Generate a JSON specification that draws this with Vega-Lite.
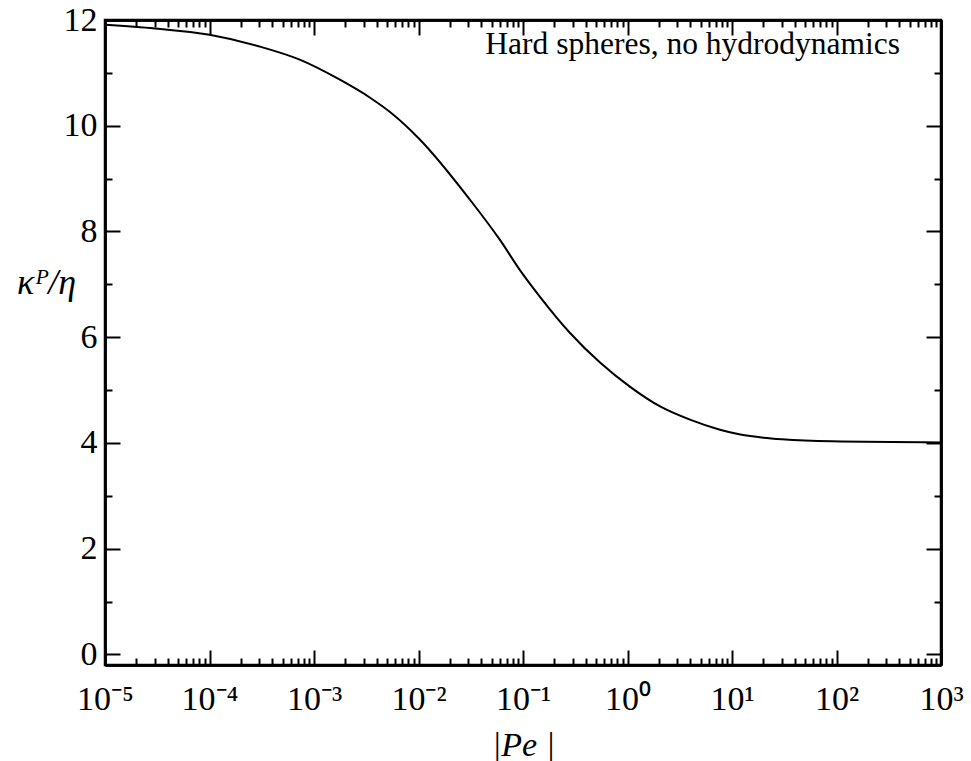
{
  "$schema": "https://vega.github.io/schema/vega-lite/v6.json",
  "width": 836,
  "height": 645,
  "autosize": {"type": "none"},
  "padding": {"left": 105, "top": 20, "right": 30, "bottom": 96},
  "background": "white",
  "config": {
    "view": {"stroke": "black", "strokeWidth": 2.5},
    "axis": {
      "grid": false,
      "domainColor": "black",
      "domainWidth": 2.5,
      "tickColor": "black",
      "tickWidth": 2,
      "labelColor": "black",
      "titleColor": "black",
      "labelFont": "Liberation Serif",
      "titleFont": "Liberation Serif",
      "labelFlush": false,
      "labelOverlap": false,
      "labelBound": false
    }
  },
  "datasets": {
    "curve": [
      {"pe": 0.00001, "k": 11.91},
      {"pe": 0.00003, "k": 11.84},
      {"pe": 0.0001, "k": 11.72},
      {"pe": 0.0003, "k": 11.5},
      {"pe": 0.00073, "k": 11.25},
      {"pe": 0.00177, "k": 10.87},
      {"pe": 0.00344, "k": 10.53},
      {"pe": 0.00534, "k": 10.26},
      {"pe": 0.0103, "k": 9.74},
      {"pe": 0.0311, "k": 8.6},
      {"pe": 0.0602, "k": 7.84},
      {"pe": 0.0935, "k": 7.27},
      {"pe": 0.146, "k": 6.76},
      {"pe": 0.282, "k": 6.08},
      {"pe": 0.546, "k": 5.52},
      {"pe": 1.06, "k": 5.06},
      {"pe": 2.05, "k": 4.69},
      {"pe": 3.96, "k": 4.44},
      {"pe": 7.67, "k": 4.25},
      {"pe": 12, "k": 4.16},
      {"pe": 20, "k": 4.1},
      {"pe": 30, "k": 4.07},
      {"pe": 90, "k": 4.03},
      {"pe": 1000, "k": 4.01}
    ],
    "note": [{"pe": 405, "k": 11.53, "label": "Hard spheres, no hydrodynamics"}]
  },
  "resolve": {"axis": {"x": "independent", "y": "independent"}},
  "layer": [
    {
      "data": {"name": "curve"},
      "mark": {"type": "line", "color": "black", "strokeWidth": 2, "interpolate": "monotone"},
      "encoding": {
        "x": {
          "field": "pe", "type": "quantitative",
          "scale": {"type": "log", "domain": [0.00001, 1000], "nice": false},
          "axis": {
            "orient": "bottom",
            "values": [0.00001, 0.0001, 0.001, 0.01, 0.1, 1, 10, 100, 1000],
            "tickSize": -15,
            "labelExpr": "'10' + ['⁻⁵','⁻⁴','⁻³','⁻²','⁻¹','⁰','¹','²','³'][round(log(datum.value)/LN10)+5]",
            "labelFontSize": 34,
            "labelPadding": 32,
            "title": "|Pe |",
            "titleFontSize": 34,
            "titleFontStyle": "italic",
            "titleFontWeight": "normal",
            "titlePadding": 12
          }
        },
        "y": {
          "field": "k", "type": "quantitative",
          "scale": {"domain": [-0.2, 12], "nice": false, "zero": false},
          "axis": {
            "orient": "left",
            "values": [0, 2, 4, 6, 8, 10, 12],
            "tickSize": -15,
            "labelFontSize": 34,
            "labelPadding": 23,
            "title": "κᴾ/η",
            "titleAngle": 0,
            "titleFontSize": 36,
            "titleFontStyle": "italic",
            "titleFontWeight": "normal",
            "titleAlign": "center",
            "titleBaseline": "middle",
            "titleX": -59,
            "titleY": 262
          }
        }
      }
    },
    {
      "data": {"name": "curve"},
      "mark": {"type": "point", "opacity": 0},
      "encoding": {
        "x": {
          "field": "pe", "type": "quantitative",
          "axis": {
            "orient": "top",
            "values": [0.00001, 0.0001, 0.001, 0.01, 0.1, 1, 10, 100, 1000],
            "tickSize": -15, "labels": false, "title": null
          }
        },
        "y": {
          "field": "k", "type": "quantitative",
          "axis": {
            "orient": "right",
            "values": [0, 2, 4, 6, 8, 10, 12],
            "tickSize": -15, "labels": false, "title": null
          }
        }
      }
    },
    {
      "data": {"name": "curve"},
      "mark": {"type": "point", "opacity": 0},
      "encoding": {
        "x": {
          "field": "pe", "type": "quantitative",
          "axis": {
            "orient": "bottom",
            "values": [0.00002,0.00003,0.00004,0.00005,0.00006,0.00007,0.00008,0.00009,
                       0.0002,0.0003,0.0004,0.0005,0.0006,0.0007,0.0008,0.0009,
                       0.002,0.003,0.004,0.005,0.006,0.007,0.008,0.009,
                       0.02,0.03,0.04,0.05,0.06,0.07,0.08,0.09,
                       0.2,0.3,0.4,0.5,0.6,0.7,0.8,0.9,
                       2,3,4,5,6,7,8,9,
                       20,30,40,50,60,70,80,90,
                       200,300,400,500,600,700,800,900],
            "tickSize": -7, "labels": false, "title": null
          }
        },
        "y": {
          "field": "k", "type": "quantitative",
          "axis": {
            "orient": "left",
            "values": [1, 3, 5, 7, 9, 11],
            "tickSize": -7, "labels": false, "title": null
          }
        }
      }
    },
    {
      "data": {"name": "curve"},
      "mark": {"type": "point", "opacity": 0},
      "encoding": {
        "x": {
          "field": "pe", "type": "quantitative",
          "axis": {
            "orient": "top",
            "values": [0.00002,0.00003,0.00004,0.00005,0.00006,0.00007,0.00008,0.00009,
                       0.0002,0.0003,0.0004,0.0005,0.0006,0.0007,0.0008,0.0009,
                       0.002,0.003,0.004,0.005,0.006,0.007,0.008,0.009,
                       0.02,0.03,0.04,0.05,0.06,0.07,0.08,0.09,
                       0.2,0.3,0.4,0.5,0.6,0.7,0.8,0.9,
                       2,3,4,5,6,7,8,9,
                       20,30,40,50,60,70,80,90,
                       200,300,400,500,600,700,800,900],
            "tickSize": -7, "labels": false, "title": null
          }
        },
        "y": {
          "field": "k", "type": "quantitative",
          "axis": {
            "orient": "right",
            "values": [1, 3, 5, 7, 9, 11],
            "tickSize": -7, "labels": false, "title": null
          }
        }
      }
    },
    {
      "data": {"name": "note"},
      "mark": {"type": "text", "align": "right", "baseline": "middle", "font": "Liberation Serif", "fontSize": 31.5, "color": "black"},
      "encoding": {
        "x": {"field": "pe", "type": "quantitative", "axis": null},
        "y": {"field": "k", "type": "quantitative", "axis": null},
        "text": {"field": "label"}
      }
    }
  ]
}
